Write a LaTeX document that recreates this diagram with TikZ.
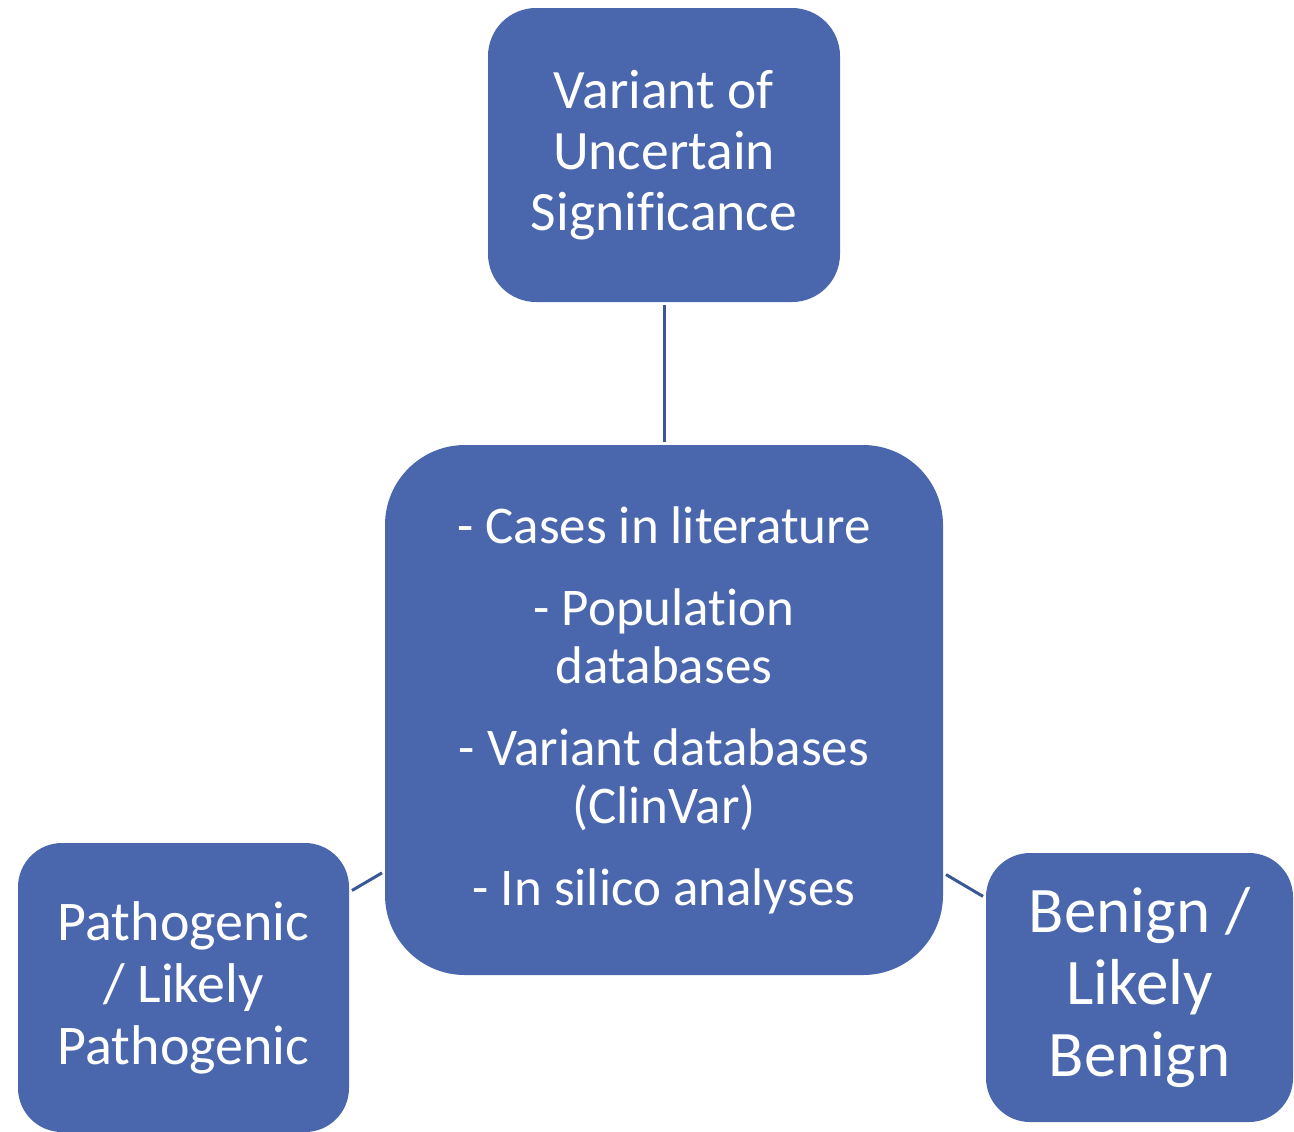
\documentclass[tikz,border=0pt]{standalone}
\usepackage{fontspec}
\setmainfont{Carlito}[Ligatures=NoCommon]
\usetikzlibrary{calc}
\definecolor{boxblue}{HTML}{4A67AD}
\definecolor{linkblue}{HTML}{3B5896}
\tikzset{
	stepbox/.style={fill=boxblue, draw=none, rounded corners=24pt, text=white, align=center, inner sep=0pt},
	link/.style={draw=linkblue, line width=1.5pt, shorten <=1.5pt, shorten >=1.5pt}
}

\begin{document}
\begin{tikzpicture}[x=0.5pt, y=-0.5pt]
		%%%%% START %%%%%
		
		\useasboundingbox (0, 0) rectangle (1294, 1131);
		
		\node[stepbox, minimum width=176pt, minimum height=147pt, font=\fontsize{27.8}{30.5}\selectfont] (vus) at (664, 155)
			{Variant of\\Uncertain\\Significance};
		
		\node[stepbox, rounded corners=40pt, minimum width=279pt, minimum height=265pt, font=\fontsize{26.5}{29}\selectfont] (evidence) at (664, 710)
			{- Cases in literature\\[12pt]- Population\\databases\\[12pt]- Variant databases\\(ClinVar)\\[12pt]- In silico analyses};
		
		\node[stepbox, rounded corners=22pt, minimum width=165.5pt, minimum height=144.5pt, font=\fontsize{28}{31}\selectfont] (patho) at (183.5, 987.5)
			{Pathogenic\\/ Likely\\Pathogenic};
		
		\node[stepbox, rounded corners=22pt, minimum width=153.5pt, minimum height=134.5pt, font=\fontsize{32.5}{36}\selectfont] (benign) at (1139.5, 987.5)
			{Benign /\\Likely\\Benign};
		
		\draw[link] (evidence) -- (vus);
		\draw[link] (evidence) -- (patho);
		\draw[link] (evidence) -- (benign);
		
		%%%%% END %%%%%
\end{tikzpicture}
\end{document}
